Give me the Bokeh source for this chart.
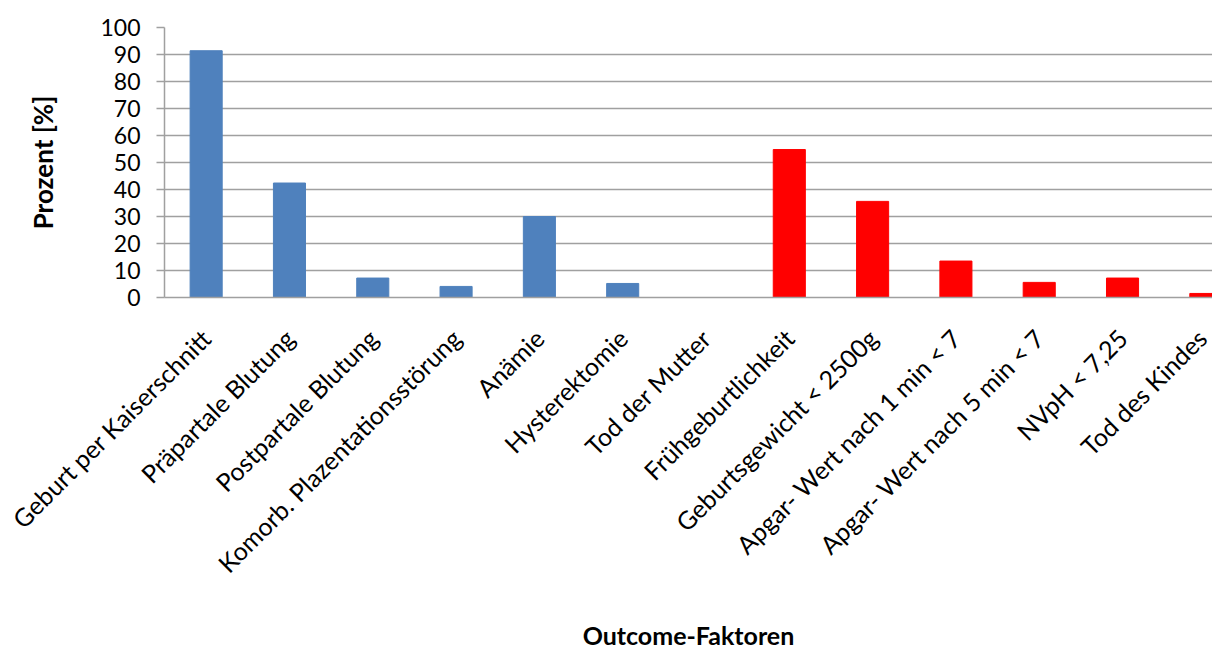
from bokeh.plotting import figure
from bokeh.models import Range1d, FixedTicker, ColumnDataSource
from bokeh.embed import file_html
from bokeh.resources import INLINE

categories = [
    "Geburt per Kaiserschnitt", "Präpartale Blutung", "Postpartale Blutung",
    "Komorb. Plazentationsstörung", "Anämie", "Hysterektomie", "Tod der Mutter",
    "Frühgeburtlichkeit", "Geburtsgewicht < 2500g", "Apgar- Wert nach 1 min < 7",
    "Apgar- Wert nach 5 min < 7", "NVpH < 7,25", "Tod des Kindes",
]
values = [91.4, 42.4, 7.2, 4.1, 30.0, 5.2, 0.0, 54.8, 35.6, 13.5, 5.6, 7.2, 1.5]
groups = ["Mutter"] * 7 + ["Kind"] * 6
group_colors = {"Mutter": "#4F81BD", "Kind": "#FF0000"}
y_ticks = list(range(0, 101, 10))

xs = list(range(len(categories)))
colors = [group_colors[g] for g in groups]
src = ColumnDataSource(dict(x=xs, top=values, color=colors))

p = figure(width=1212, height=653, output_backend="svg", toolbar_location=None,
           x_range=Range1d(-0.5, 12.08), y_range=Range1d(0, 100),
           min_border_left=164, min_border_right=0, min_border_top=27,
           min_border_bottom=356)
p.outline_line_color = None
p.background_fill_color = "white"

p.vbar(x="x", top="top", width=0.385, bottom=0, fill_color="color",
       line_color="color", source=src)

font = "Lato"
# y axis
p.yaxis.ticker = FixedTicker(ticks=y_ticks)
p.yaxis.major_label_text_font = font
p.yaxis.major_label_text_font_size = "23px"
p.yaxis.major_label_text_color = "#000000"
p.yaxis.axis_line_color = "#a0a0a0"
p.yaxis.axis_line_width = 1.5
p.yaxis.major_tick_line_color = "#a0a0a0"
p.yaxis.major_tick_line_width = 1.5
p.yaxis.major_tick_out = 8
p.yaxis.major_tick_in = 0
p.yaxis.minor_tick_line_color = None
p.yaxis.major_label_standoff = 16
p.yaxis.axis_label = "Prozent [%]"
p.yaxis.axis_label_text_font = font
p.yaxis.axis_label_text_font_style = "bold"
p.yaxis.axis_label_text_font_size = "26px"
p.yaxis.axis_label_text_color = "#000000"
p.yaxis.axis_label_standoff = 38

# x axis
p.xaxis.ticker = FixedTicker(ticks=xs)
p.xaxis.major_label_overrides = {i: c for i, c in enumerate(categories)}
p.xaxis.major_label_orientation = 0.785398
p.xaxis.major_label_text_font = font
p.xaxis.major_label_text_font_size = "25px"
p.xaxis.major_label_text_color = "#000000"
p.xaxis.major_label_standoff = 30
p.xaxis.axis_line_color = "#a0a0a0"
p.xaxis.axis_line_width = 1.5
p.xaxis.major_tick_line_color = None
p.xaxis.minor_tick_line_color = None
p.xaxis.axis_label = "Outcome-Faktoren"
p.xaxis.axis_label_text_font = font
p.xaxis.axis_label_text_font_style = "bold"
p.xaxis.axis_label_text_font_size = "25px"
p.xaxis.axis_label_text_color = "#000000"
p.xaxis.axis_label_standoff = 28

p.xgrid.grid_line_color = None
p.ygrid.ticker = FixedTicker(ticks=y_ticks)
p.ygrid.grid_line_color = "#a0a0a0"
p.ygrid.grid_line_width = 1.5

open("out.html", "w").write(file_html(p, INLINE))
